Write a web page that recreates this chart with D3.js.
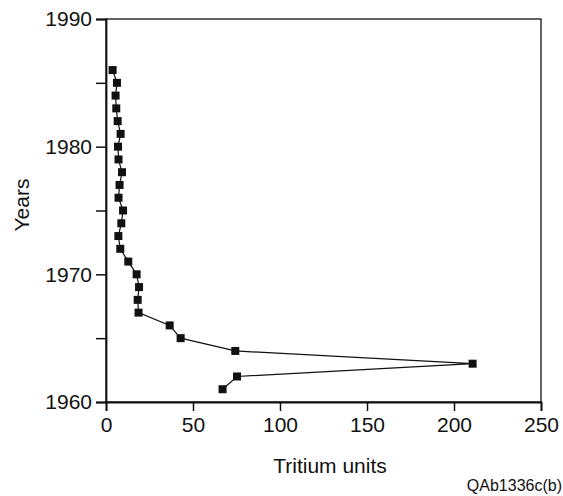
<!DOCTYPE html>
<html>
<head>
<meta charset="utf-8">
<script src="https://cdn.jsdelivr.net/npm/d3@7"></script>
<style>
  body { margin: 0; background: #fff; }
  text { font-family: "Liberation Sans", Arial, sans-serif; fill: #111; }
</style>
</head>
<body>
<div id="chart"></div>
<script>
// data
var years = [1986, 1985, 1984, 1983, 1982, 1981, 1980, 1979, 1978, 1977, 1976, 1975, 1974,
             1973, 1972, 1971, 1970, 1969, 1968, 1967, 1966, 1965, 1964, 1963, 1962, 1961];
var tritium = [3.8, 6.3, 5.5, 5.9, 6.7, 8.4, 6.9, 7.2, 9.2, 7.8, 7.2, 9.8, 8.8,
               7.1, 8.2, 12.8, 17.6, 19.0, 18.2, 18.7, 36.6, 42.9, 74.3, 210.7, 75.3, 67.0];
var xTicks = [0, 50, 100, 150, 200, 250];
var yTicks = [1960, 1965, 1970, 1975, 1980, 1985, 1990];
var yLabels = [1960, 1970, 1980, 1990];

var width = 563,
    height = 496,
    margin = {top: 19, right: 22, bottom: 94, left: 106};

var svg = d3.select("#chart")
    .append("svg")
    .attr("width", width)
    .attr("height", height);

var g = svg.append("g")
    .attr("transform", "translate(" + margin.left + "," + margin.top + ")");

var w = width - margin.left - margin.right,
    h = height - margin.top - margin.bottom;

var x = d3.scaleLinear().domain([0, 250]).range([0, w]);
var y = d3.scaleLinear().domain([1960, 1990]).range([h, 0]);

// frame
g.append("rect")
    .attr("width", w)
    .attr("height", h)
    .attr("fill", "none")
    .attr("stroke", "#111")
    .attr("stroke-width", 1.3);

var xAxis = g.append("g")
    .attr("transform", "translate(0," + h + ")")
    .call(d3.axisBottom(x).tickValues(xTicks).tickSize(9).tickPadding(6));

var yAxis = g.append("g")
    .call(d3.axisLeft(y).tickValues(yTicks).tickSize(10).tickPadding(4)
        .tickFormat(function(d) { return yLabels.indexOf(d) >= 0 ? d : ""; }));

[xAxis, yAxis].forEach(function(a) {
    a.select(".domain").attr("stroke", "#111").attr("stroke-width", 1.8);
    a.selectAll(".tick line").attr("stroke", "#111").attr("stroke-width", 1.5);
    a.selectAll(".tick text").style("font-size", "21px").attr("fill", "#111");
});

var pts = years.map(function(d, i) { return {year: d, t: tritium[i]}; });

var line = d3.line()
    .x(function(d) { return x(d.t); })
    .y(function(d) { return y(d.year); });

g.append("path")
    .datum(pts)
    .attr("d", line)
    .attr("fill", "none")
    .attr("stroke", "#111")
    .attr("stroke-width", 1.2);

var s = 8;
g.selectAll(".pt")
    .data(pts)
    .join("rect")
    .attr("class", "pt")
    .attr("x", function(d) { return x(d.t) - s / 2; })
    .attr("y", function(d) { return y(d.year) - s / 2; })
    .attr("width", s)
    .attr("height", s)
    .attr("fill", "#111");

// axis titles
svg.append("text")
    .attr("x", 330)
    .attr("y", 473)
    .attr("text-anchor", "middle")
    .style("font-size", "21px")
    .text("Tritium units");

svg.append("text")
    .attr("transform", "translate(29,205) rotate(-90)")
    .attr("text-anchor", "middle")
    .style("font-size", "21px")
    .text("Years");

svg.append("text")
    .attr("x", 562)
    .attr("y", 491)
    .attr("text-anchor", "end")
    .style("font-size", "16px")
    .text("QAb1336c(b)");
</script>
</body>
</html>
